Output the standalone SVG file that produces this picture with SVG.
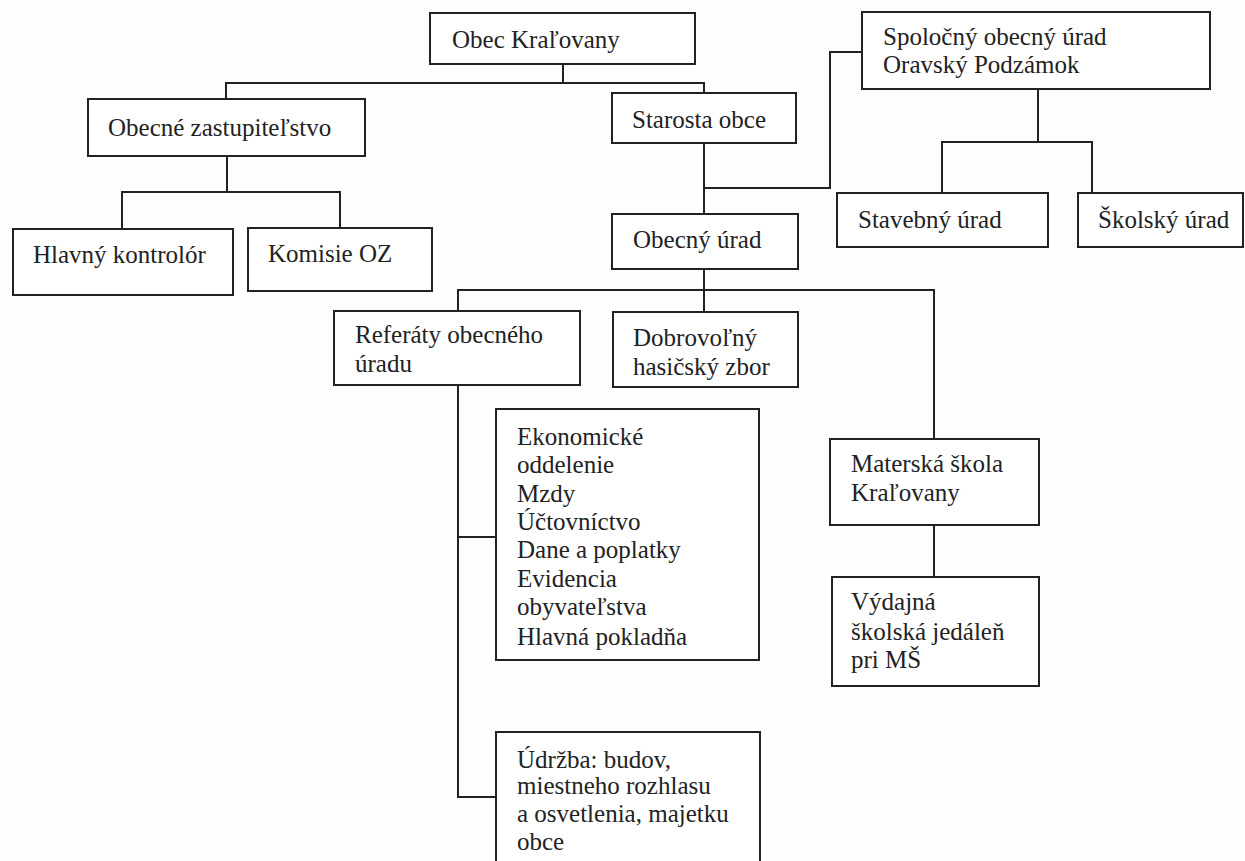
<svg xmlns="http://www.w3.org/2000/svg" width="1245" height="861" viewBox="0 0 1245 861">
<style>
.box{fill:#fff;stroke:#222;stroke-width:2}
.con{fill:none;stroke:#222;stroke-width:2}
text{font-family:"Liberation Serif","Times New Roman",serif;font-size:25px;fill:#222}
</style>
<rect x="0" y="0" width="1245" height="861" fill="#fdfdfd"/>
<g id="connectors">
<path class="con" d="M563,64 V83 M226,99 V83 H704 V93"/>
<path class="con" d="M227,156 V192 M122,229 V192 H340 V228"/>
<path class="con" d="M704,143 V214 M704,188 H830 V52 H862"/>
<path class="con" d="M1038,89 V142 M942,193 V142 H1092 V193"/>
<path class="con" d="M704,269 V312 M458,311 V290 H934 V439"/>
<path class="con" d="M458,385 V797 H496 M458,537 H496"/>
<path class="con" d="M934,525 V577"/>
</g>
<g id="obec"><rect class="box" x="430" y="13" width="265" height="51"/><text x="452" y="48">Obec Kraľovany</text></g>
<g id="zastupitelstvo"><rect class="box" x="88" y="99" width="277" height="57"/><text x="108" y="136">Obecné zastupiteľstvo</text></g>
<g id="kontrolor"><rect class="box" x="13" y="229" width="220" height="66"/><text x="33" y="263">Hlavný kontrolór</text></g>
<g id="komisie"><rect class="box" x="248" y="228" width="184" height="63"/><text x="268" y="262">Komisie OZ</text></g>
<g id="starosta"><rect class="box" x="612" y="93" width="184" height="50"/><text x="632" y="128">Starosta obce</text></g>
<g id="spolocny"><rect class="box" x="862" y="12" width="348" height="77"/><text x="883" y="45">Spoločný obecný úrad</text><text x="883" y="73">Oravský Podzámok</text></g>
<g id="stavebny"><rect class="box" x="837" y="193" width="211" height="54"/><text x="858" y="228">Stavebný úrad</text></g>
<g id="skolsky"><rect class="box" x="1078" y="193" width="165" height="54"/><text x="1098" y="228">Školský úrad</text></g>
<g id="obecny-urad"><rect class="box" x="612" y="214" width="186" height="55"/><text x="633" y="248">Obecný úrad</text></g>
<g id="referaty"><rect class="box" x="334" y="311" width="246" height="74"/><text x="355" y="343">Referáty obecného</text><text x="355" y="372">úradu</text></g>
<g id="hasici"><rect class="box" x="613" y="312" width="185" height="75"/><text x="633" y="346">Dobrovoľný</text><text x="633" y="375">hasičský zbor</text></g>
<g id="ekonomicke"><rect class="box" x="496" y="409" width="263" height="251"/>
<text x="517" y="445">Ekonomické</text><text x="517" y="473">oddelenie</text><text x="517" y="502">Mzdy</text><text x="517" y="530">Účtovníctvo</text><text x="517" y="558">Dane a poplatky</text><text x="517" y="587">Evidencia</text><text x="517" y="615">obyvateľstva</text><text x="517" y="645">Hlavná pokladňa</text></g>
<g id="udrzba"><rect class="box" x="496" y="732" width="264" height="140"/>
<text x="517" y="768">Údržba: budov,</text><text x="517" y="794">miestneho rozhlasu</text><text x="517" y="822">a osvetlenia, majetku</text><text x="517" y="850">obce</text></g>
<g id="materska"><rect class="box" x="830" y="439" width="209" height="86"/><text x="851" y="472">Materská škola</text><text x="851" y="501">Kraľovany</text></g>
<g id="jedalen"><rect class="box" x="832" y="577" width="207" height="109"/><text x="851" y="610">Výdajná</text><text x="851" y="640">školská jedáleň</text><text x="851" y="668">pri MŠ</text></g>
</svg>
